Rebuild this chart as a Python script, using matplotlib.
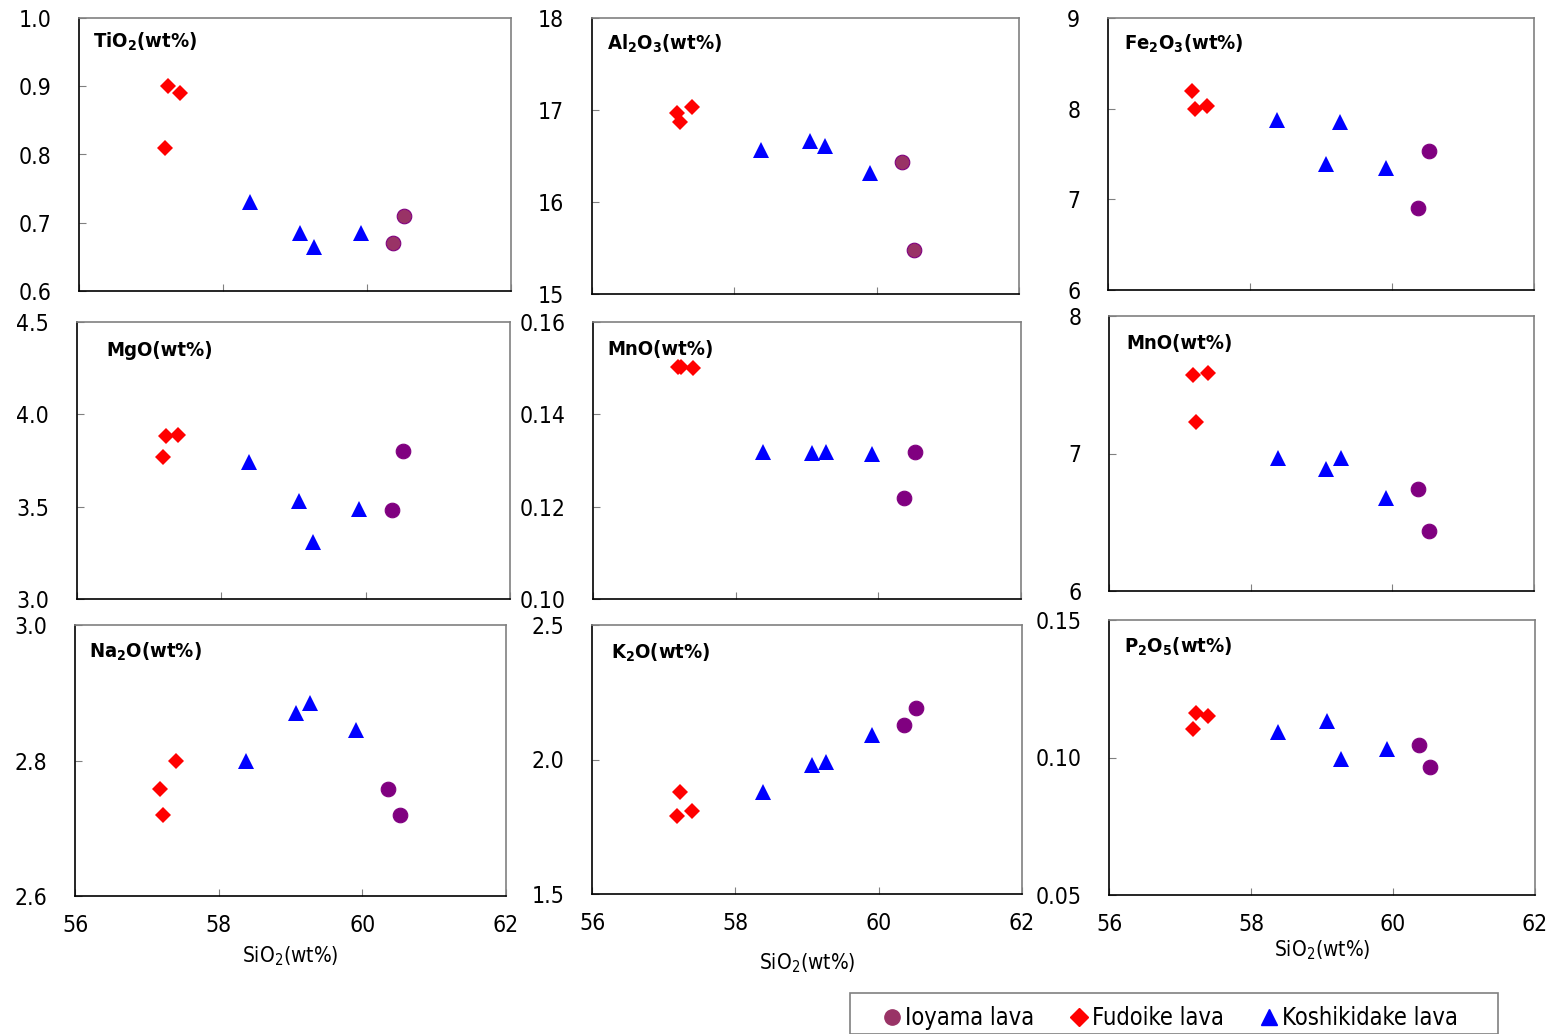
import matplotlib
matplotlib.use('Agg')
import matplotlib.pyplot as plt
from matplotlib.lines import Line2D
from matplotlib.patches import Rectangle
from matplotlib.ticker import FormatStrFormatter

plt.rcParams['font.family'] = ['DejaVu Sans']
plt.rcParams['font.stretch'] = 'condensed'
plt.rcParams['mathtext.fontset'] = 'dejavusans'

# SiO2 (wt%) of each sample
sio2_ioyama = [60.36, 60.52]
sio2_fudoike = [57.19, 57.23, 57.40]
sio2_koshi = [58.38, 59.07, 59.27, 59.91]

# oxide values, same sample order as above
tio2_i = [0.67, 0.71]
tio2_f = [0.81, 0.90, 0.89]
tio2_k = [0.73, 0.685, 0.665, 0.685]

al2o3_i = [16.43, 15.48]
al2o3_f = [16.97, 16.87, 17.03]
al2o3_k = [16.57, 16.66, 16.61, 16.32]

fe2o3_i = [6.90, 7.53]
fe2o3_f = [8.20, 8.00, 8.03]
fe2o3_k = [7.87, 7.39, 7.85, 7.35]

mgo_i = [3.48, 3.80]
mgo_f = [3.77, 3.88, 3.89]
mgo_k = [3.74, 3.53, 3.31, 3.49]

mno_i = [0.1219, 0.1318]
mno_f = [0.1502, 0.1502, 0.1500]
mno_k = [0.1318, 0.1316, 0.1318, 0.1314]

mno2_i = [6.74, 6.44]
mno2_f = [7.57, 7.23, 7.585]
mno2_k = [6.97, 6.89, 6.97, 6.68]

na2o_i = [2.758, 2.72]
na2o_f = [2.758, 2.72, 2.80]
na2o_k = [2.80, 2.87, 2.885, 2.845]

k2o_i = [2.13, 2.19]
k2o_f = [1.79, 1.88, 1.81]
k2o_k = [1.88, 1.98, 1.99, 2.09]

p2o5_i = [0.1045, 0.0965]
p2o5_f = [0.1104, 0.1162, 0.1151]
p2o5_k = [0.1093, 0.1133, 0.0995, 0.1031]

titles = [r'TiO$_\mathbf{2}$(wt%)', r'Al$_\mathbf{2}$O$_\mathbf{3}$(wt%)', r'Fe$_\mathbf{2}$O$_\mathbf{3}$(wt%)',
          'MgO(wt%)', 'MnO(wt%)', 'MnO(wt%)',
          r'Na$_\mathbf{2}$O(wt%)', r'K$_\mathbf{2}$O(wt%)', r'P$_\mathbf{2}$O$_\mathbf{5}$(wt%)']
data = [(tio2_i, tio2_f, tio2_k), (al2o3_i, al2o3_f, al2o3_k), (fe2o3_i, fe2o3_f, fe2o3_k),
        (mgo_i, mgo_f, mgo_k), (mno_i, mno_f, mno_k), (mno2_i, mno2_f, mno2_k),
        (na2o_i, na2o_f, na2o_k), (k2o_i, k2o_f, k2o_k), (p2o5_i, p2o5_f, p2o5_k)]
yticks = [[0.6, 0.7, 0.8, 0.9, 1.0], [15, 16, 17, 18], [6, 7, 8, 9],
          [3.0, 3.5, 4.0, 4.5], [0.10, 0.12, 0.14, 0.16], [6, 7, 8],
          [2.6, 2.8, 3.0], [1.5, 2.0, 2.5], [0.05, 0.10, 0.15]]
yfmt = ['%.1f', '%d', '%d', '%.1f', '%.2f', '%d', '%.1f', '%.1f', '%.2f']

# panel boxes in pixels (left, top, right, bottom)
boxes = [(79, 18, 511, 291), (592, 18, 1019, 294), (1108, 18, 1534, 290),
         (77, 322, 510, 599), (593, 322, 1021, 599), (1109, 316, 1534, 591),
         (75, 625, 506, 896), (592, 625, 1022, 894), (1109, 620, 1535, 895)]
title_pos = [(93, 42), (607, 44), (1124, 44), (106, 350), (607, 350), (1126, 344),
             (89, 652), (611, 653), (1124, 647)]
xlabel_pad = [0, 0, 0, 0, 0, 0, 5, 12, 2]

W, H = 1550, 1034
fig = plt.figure(figsize=(W / 100, H / 100), dpi=100)

for n in range(9):
    l, t, r, b = boxes[n]
    ax = fig.add_axes([l / W, 1 - b / H, (r - l) / W, (b - t) / H])
    yi, yf, yk = data[n]
    ioy_color = '#993366' if n < 2 else '#800080'
    ax.plot(sio2_ioyama, yi, 'o', color=ioy_color, mec='#800080', ms=10.5, mew=0.8, clip_on=False)
    ax.plot(sio2_fudoike, yf, 'D', color='#ff0000', ms=8, mew=0, clip_on=False)
    ax.plot(sio2_koshi, yk, '^', color='#0000ff', ms=11, mew=0, clip_on=False)
    ax.set_xlim(56, 62)
    ax.set_ylim(yticks[n][0], yticks[n][-1])
    ax.set_xticks([56, 58, 60, 62])
    ax.set_yticks(yticks[n])
    ax.yaxis.set_major_formatter(FormatStrFormatter(yfmt[n]))
    ax.tick_params(direction='in', length=5, color='#808080', labelsize=16.5, pad=20)
    ax.tick_params(axis='x', pad=13)
    if n < 6:
        ax.tick_params(axis='x', labelbottom=False)
    else:
        ax.set_xlabel(r'SiO$_2$(wt%)', fontsize=15, labelpad=xlabel_pad[n])
    for side in ['top', 'right']:
        ax.spines[side].set_color('#808080')
    for side in ['left', 'bottom']:
        ax.spines[side].set_color('black')
    for s in ax.spines.values():
        s.set_linewidth(1.2)
    tx, ty = title_pos[n]
    fig.text(tx / W, 1 - ty / H, titles[n], fontsize=14.5, fontweight='bold',
             va='center', ha='left')

# legend frame, runs past the bottom edge like the original
fig.patches.append(Rectangle((850 / W, 0), 648 / W, 41 / H, transform=fig.transFigure,
                             fill=False, edgecolor='#808080', linewidth=1.2))

handles = [Line2D([], [], ls='none', marker='o', color='#993366', ms=11),
           Line2D([], [], ls='none', marker='D', color='#ff0000', ms=9),
           Line2D([], [], ls='none', marker='^', color='#0000ff', ms=11)]
fig.legend(handles, ['Ioyama lava', 'Fudoike lava', 'Koshikidake lava'],
           loc='upper left', bbox_to_anchor=(850 / W, 1 - 993 / H), ncol=3,
           fontsize=17, frameon=False,
           handletextpad=-0.7, columnspacing=0.65, borderpad=0.55, handlelength=2.5,
           borderaxespad=0)

fig.savefig('out.png', dpi=100)
